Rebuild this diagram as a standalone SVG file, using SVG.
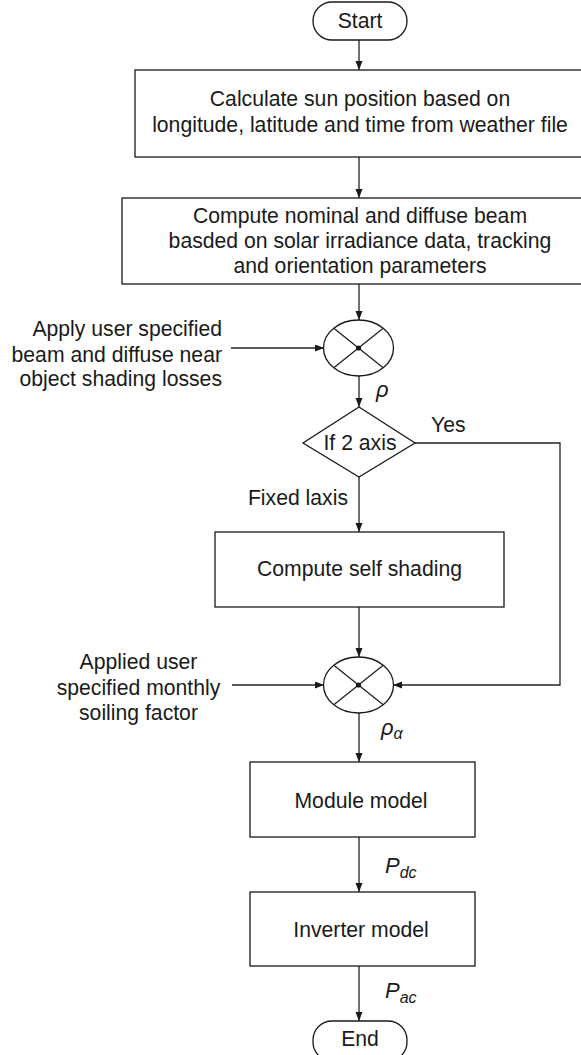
<svg xmlns="http://www.w3.org/2000/svg" width="581" height="1055" viewBox="0 0 581 1055">
  <style>
    .shape { fill: #fff; stroke: #1a1a1a; stroke-width: 1.3; }
    .wire { fill: none; stroke: #222; stroke-width: 1.3; }
    .txt { font-family: "Liberation Sans", Arial, sans-serif; font-size: 21.2px; fill: #1a1a1a; text-anchor: middle; }
    .side { font-family: "Liberation Sans", Arial, sans-serif; font-size: 21.2px; fill: #1a1a1a; }
    .sym { font-family: "Liberation Sans", Arial, sans-serif; font-size: 22px; font-style: italic; fill: #1a1a1a; }
    .sub { font-size: 16px; }
  </style>
  <defs>
    <marker id="arrow" markerUnits="userSpaceOnUse" markerWidth="10" markerHeight="8" refX="9" refY="3.5" orient="auto">
      <path d="M0,0 L9,3.5 L0,7 z" fill="#1a1a1a"/>
    </marker>
  </defs>

  <rect width="581" height="1055" fill="#fff"/>

  <!-- connectors -->
  <g id="connectors" class="wire">
    <line x1="359" y1="40" x2="359" y2="70" marker-end="url(#arrow)"/>
    <line x1="359" y1="157" x2="359" y2="198" marker-end="url(#arrow)"/>
    <line x1="359" y1="284" x2="359" y2="320" marker-end="url(#arrow)"/>
    <line x1="231" y1="348" x2="324" y2="348" marker-end="url(#arrow)"/>
    <line x1="359" y1="376" x2="359" y2="407" marker-end="url(#arrow)"/>
    <line x1="359" y1="477" x2="359" y2="532" marker-end="url(#arrow)"/>
    <polyline points="415,443 560,443 560,685 393,685" marker-end="url(#arrow)"/>
    <line x1="359" y1="607" x2="359" y2="657" marker-end="url(#arrow)"/>
    <line x1="232" y1="685" x2="324" y2="685" marker-end="url(#arrow)"/>
    <line x1="359" y1="713" x2="359" y2="762" marker-end="url(#arrow)"/>
    <line x1="359" y1="837" x2="359" y2="892" marker-end="url(#arrow)"/>
    <line x1="359" y1="966" x2="359" y2="1021" marker-end="url(#arrow)"/>
  </g>

  <!-- start terminal -->
  <g id="start">
    <rect class="shape" x="313" y="2" width="94" height="38" rx="19" ry="19"/>
    <text class="txt" x="360" y="28">Start</text>
  </g>

  <!-- sun position -->
  <g id="sun-position">
    <rect class="shape" x="135" y="70" width="460" height="87"/>
    <text class="txt" x="360" y="106">Calculate sun position based on</text>
    <text class="txt" x="360" y="132">longitude, latitude and time from weather file</text>
  </g>

  <!-- beam computation -->
  <g id="beam">
    <rect class="shape" x="122" y="198" width="476" height="86"/>
    <text class="txt" x="360" y="223">Compute nominal and diffuse beam</text>
    <text class="txt" x="360" y="248">basded on solar irradiance data, tracking</text>
    <text class="txt" x="360" y="273">and orientation parameters</text>
  </g>

  <!-- near object shading input -->
  <g id="shading-input">
    <text class="side" x="222" y="336" text-anchor="end">Apply user specified</text>
    <text class="side" x="222" y="362" text-anchor="end">beam and diffuse near</text>
    <text class="side" x="222" y="386" text-anchor="end">object shading losses</text>
  </g>

  <!-- first multiplier -->
  <g id="mult-1">
    <ellipse class="shape" cx="358.5" cy="348" rx="35" ry="28"/>
    <path class="wire" d="M333.8,328.2 L383.2,367.8 M383.2,328.2 L333.8,367.8"/>
    <circle cx="358.5" cy="348" r="2.6" fill="#1a1a1a"/>
  </g>
  <text class="sym" x="376" y="397">ρ</text>

  <!-- decision -->
  <g id="decision">
    <polygon class="shape" points="359,407 415,443 359,477 303,443"/>
    <text class="txt" x="360" y="450">If 2 axis</text>
  </g>
  <text class="side" x="431" y="432">Yes</text>
  <text class="side" x="348" y="505" text-anchor="end">Fixed laxis</text>

  <!-- self shading -->
  <g id="self-shading">
    <rect class="shape" x="215" y="532" width="289" height="75"/>
    <text class="txt" x="359.5" y="576">Compute self shading</text>
  </g>

  <!-- soiling input -->
  <g id="soiling-input">
    <text class="side" x="138.5" y="669" text-anchor="middle">Applied user</text>
    <text class="side" x="138.5" y="695" text-anchor="middle">specified monthly</text>
    <text class="side" x="138.5" y="720" text-anchor="middle">soiling factor</text>
  </g>

  <!-- second multiplier -->
  <g id="mult-2">
    <ellipse class="shape" cx="358.5" cy="685" rx="35" ry="28"/>
    <path class="wire" d="M333.8,665.2 L383.2,704.8 M383.2,665.2 L333.8,704.8"/>
    <circle cx="358.5" cy="685" r="2.6" fill="#1a1a1a"/>
  </g>
  <text class="sym" x="381" y="735">ρ<tspan class="sub" dy="4">α</tspan></text>

  <!-- module model -->
  <g id="module">
    <rect class="shape" x="250" y="762" width="225" height="75"/>
    <text class="txt" x="361" y="808">Module model</text>
  </g>
  <text class="sym" x="385" y="873">P<tspan class="sub" dy="5">dc</tspan></text>

  <!-- inverter model -->
  <g id="inverter">
    <rect class="shape" x="250" y="892" width="225" height="74"/>
    <text class="txt" x="361" y="937">Inverter model</text>
  </g>
  <text class="sym" x="385" y="998">P<tspan class="sub" dy="5">ac</tspan></text>

  <!-- end terminal -->
  <g id="end">
    <rect class="shape" x="313" y="1021" width="94" height="40" rx="19" ry="19"/>
    <text class="txt" x="360" y="1046">End</text>
  </g>
</svg>
